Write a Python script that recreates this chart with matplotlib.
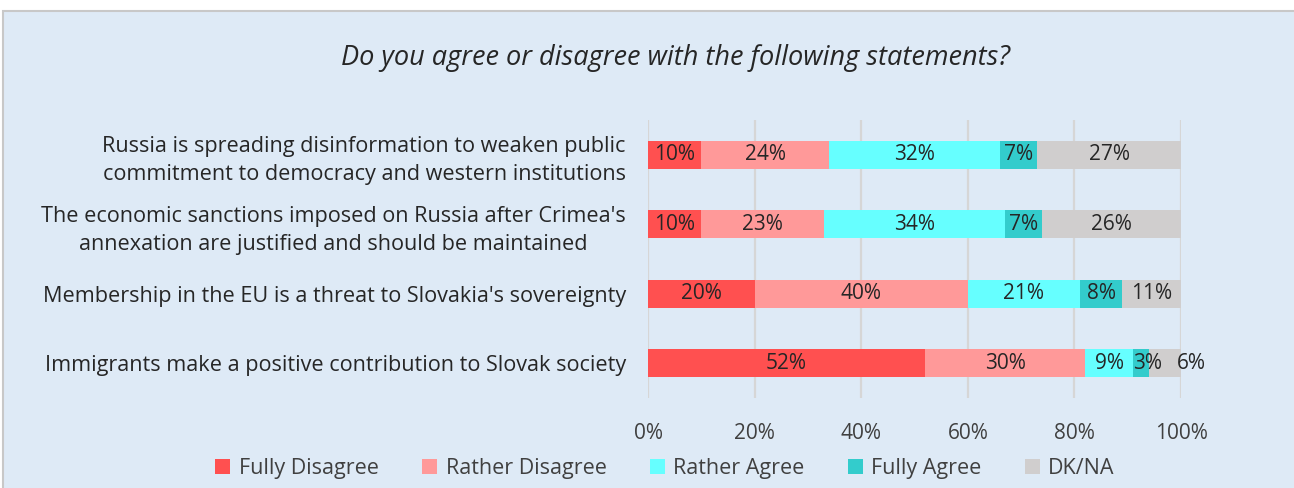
import matplotlib
matplotlib.use("Agg")
import matplotlib.pyplot as plt
from matplotlib.patches import Rectangle, Patch

plt.rcParams['font.family'] = ['Open Sans', 'DejaVu Sans']

statements = [
    "Russia is spreading disinformation to weaken public\ncommitment to democracy and western institutions",
    "The economic sanctions imposed on Russia after Crimea's\nannexation are justified and should be maintained",
    "Membership in the EU is a threat to Slovakia's sovereignty",
    "Immigrants make a positive contribution to Slovak society",
]
answers = ["Fully Disagree", "Rather Disagree", "Rather Agree", "Fully Agree", "DK/NA"]
fully_disagree = [10, 10, 20, 52]
rather_disagree = [24, 23, 40, 30]
rather_agree = [32, 34, 21, 9]
fully_agree = [7, 7, 8, 3]
dk_na = [27, 26, 11, 6]
colors = ["#FF5050", "#FF9999", "#66FFFF", "#33CCCC", "#D0CECE"]
xticks = [0, 20, 40, 60, 80, 100]

series = [fully_disagree, rather_disagree, rather_agree, fully_agree, dk_na]
fs = 15

fig = plt.figure(figsize=(12.94, 4.88), dpi=100)
fig.patch.set_facecolor("white")
# light blue panel with grey border, cut at the bottom/right
fig.patches.append(Rectangle((3 / 1294, -0.05), 1.1, 1 - 11 / 488 + 0.05,
                             transform=fig.transFigure, facecolor="#DEEAF6",
                             edgecolor="#C8C8C8", linewidth=1.5, zorder=-1))

ax = fig.add_axes([0.5008, 0.1844, 0.4119, 0.5697])
ax.set_facecolor("none")

ypos = list(range(len(statements)))
left = [0] * len(statements)
for vals, col, name in zip(series, colors, answers):
    bars = ax.barh(ypos, vals, left=left, height=0.4, color=col, label=name, zorder=2)
    for i, (b, v) in enumerate(zip(bars, vals)):
        cx = b.get_x() + b.get_width() / 2
        dx = 0
        # Excel nudged the two narrow labels on the last row
        if i == 3 and name == "Fully Agree":
            dx = 5
        if i == 3 and name == "DK/NA":
            dx = 19
        ax.annotate(f"{v}%", (cx, b.get_y() + b.get_height() / 2),
                    xytext=(dx, 0), textcoords="offset points",
                    ha="center", va="center", fontsize=fs, color="#262626", zorder=3)
    left = [l + v for l, v in zip(left, vals)]

ax.set_xlim(0, 100)
ax.set_ylim(len(statements) - 0.5, -0.5)
ax.set_xticks(xticks)
ax.set_xticklabels([f"{t}%" for t in xticks], fontsize=fs, color="#404040")
ax.set_yticks(ypos)
ax.set_yticklabels(statements, fontsize=15.6, color="#262626",
                   multialignment="center", linespacing=1.45)
ax.tick_params(axis="x", length=0, pad=18)
ax.tick_params(axis="y", length=0, pad=16)
ax.grid(axis="x", color="#D6D6D6", linewidth=1.6, zorder=1)
ax.set_axisbelow(True)
for s in ax.spines.values():
    s.set_visible(False)

fig.text(0.522, 0.881, "Do you agree or disagree with the following statements?",
         ha="center", va="center", fontsize=19.5, style="italic", color="#262626")

handles = [Patch(facecolor=c, edgecolor="none") for c in colors]
fig.legend(handles, answers, loc="center", bbox_to_anchor=(0.514, 0.04), ncol=5,
           frameon=False, fontsize=15.5, handlelength=0.7, handleheight=0.7,
           handletextpad=0.4, columnspacing=2.0, labelcolor="#404040")

fig.savefig("out.png", dpi=100)
